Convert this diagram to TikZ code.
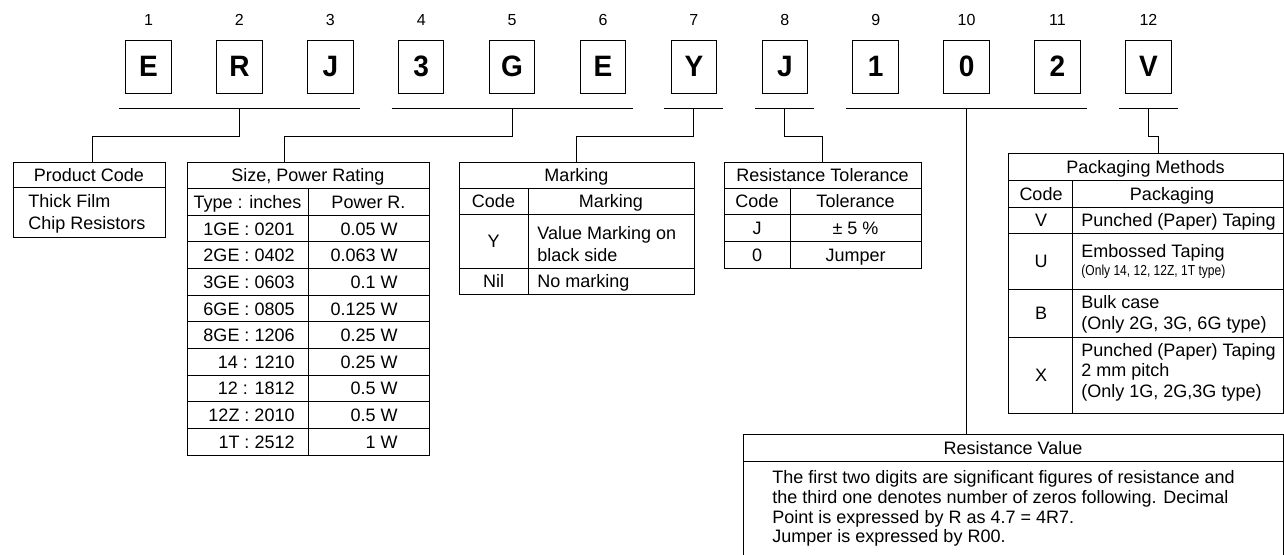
\documentclass[tikz,border=0pt]{standalone}
\usepackage{fontspec}
\setmainfont{Liberation Sans}
\usepackage{graphicx}
\newcommand{\nrw}[1]{\scalebox{0.95}[1]{#1}}

\begin{document}
\begin{tikzpicture}[x=1pt,y=-1pt,line width=0.9pt,node distance=90.9pt,
  letter/.style={draw,line width=1pt,minimum width=45.5pt,minimum height=53pt,inner sep=0pt,font=\fontsize{29.5}{29.5}\selectfont\bfseries},
  num/.style={node distance=46.5pt,font=\fontsize{16}{16}\selectfont},
  tblframe/.style={draw,line width=1pt,inner sep=0pt},
  txt/.style={inner sep=0pt,font=\fontsize{18}{22}\selectfont},
  cell/.style={txt,text height=13pt,text depth=0pt},
  note/.style={inner sep=0pt,font=\fontsize{14.5}{15}\selectfont}]
  \useasboundingbox (0,0) rectangle (1284,554);

  % part number boxes
  \node[letter] (b1) at (148.5,66.5) {\nrw{E}};
  \node[letter] (b2) [right of=b1] {\nrw{R}};
  \node[letter] (b3) [right of=b2] {\nrw{J}};
  \node[letter] (b4) [right of=b3] {\nrw{3}};
  \node[letter] (b5) [right of=b4] {\nrw{G}};
  \node[letter] (b6) [right of=b5] {\nrw{E}};
  \node[letter] (b7) [right of=b6] {\nrw{Y}};
  \node[letter] (b8) [right of=b7] {\nrw{J}};
  \node[letter] (b9) [right of=b8] {\nrw{1}};
  \node[letter] (b10) [right of=b9] {\nrw{0}};
  \node[letter] (b11) [right of=b10] {\nrw{2}};
  \node[letter] (b12) [right of=b11] {\nrw{V}};

  \node[num] (n1) [above of=b1] {1};
  \node[num] (n2) [above of=b2] {2};
  \node[num] (n3) [above of=b3] {3};
  \node[num] (n4) [above of=b4] {4};
  \node[num] (n5) [above of=b5] {5};
  \node[num] (n6) [above of=b6] {6};
  \node[num] (n7) [above of=b7] {7};
  \node[num] (n8) [above of=b8] {8};
  \node[num] (n9) [above of=b9] {9};
  \node[num] (n10) [above of=b10] {10};
  \node[num] (n11) [above of=b11] {11};
  \node[num] (n12) [above of=b12] {12};

  % group brackets
  \draw ([xshift=-29.5pt,yshift=-15pt]b1.south) -- ([xshift=29.5pt,yshift=-15pt]b3.south);
  \draw ([xshift=-29.5pt,yshift=-15pt]b4.south) -- ([xshift=29.5pt,yshift=-15pt]b6.south);
  \draw ([xshift=-29.5pt,yshift=-15pt]b7.south) -- ([xshift=29.5pt,yshift=-15pt]b7.south);
  \draw ([xshift=-29.5pt,yshift=-15pt]b8.south) -- ([xshift=29.5pt,yshift=-15pt]b8.south);
  \draw ([xshift=-29.5pt,yshift=-15pt]b9.south) -- ([xshift=29.5pt,yshift=-15pt]b11.south);
  \draw ([xshift=-29.5pt,yshift=-15pt]b12.south) -- ([xshift=29.5pt,yshift=-15pt]b12.south);

  % product code
  \node[tblframe,minimum width=152pt,minimum height=75pt] (pc) at (89,199.5) {};
  \draw (pc.north west) ++(0,26) -- ++(152,0);
  \node[cell] (pct) at (89,175) {Product Code};
  \node[txt,align=left,anchor=west] (pcb) at (28,214) {Thick Film\\Chip Resistors};

  % size, power rating
  \node[tblframe,minimum width=242pt,minimum height=293pt] (sz) at (308,308.5) {};
  \foreach \k in {1,...,10}
    \draw (187,{162+26.64*\k}) -- (429,{162+26.64*\k});
  \draw (sz.south) -- ++(0,-266.4);
  \node[cell] (szt) at (308,175.3) {Size, Power Rating};
  \node[cell] (szh1) at (247.5,202) {Type : inches};
  \node[cell] (szh2) at (368.5,202) {Power R.};
  \foreach \t/\p [count=\i] in {1GE : 0201/0.05 W, 2GE : 0402/0.063 W, 3GE : 0603/0.1 W,
      6GE : 0805/0.125 W, 8GE : 1206/0.25 W, 14 : 1210/0.25 W, 12 : 1812/0.5 W,
      12Z : 2010/0.5 W, 1T : 2512/1 W} {
    \node[cell,anchor=east] (sza\i) at (295,{162+26.64*(\i+1.5)}) {\t};
    \node[cell,anchor=east] (szb\i) at (398,{162+26.64*(\i+1.5)}) {\p};
  }

  % marking
  \node[tblframe,minimum width=235pt,minimum height=132pt] (mk) at (576.5,228) {};
  \draw (459,188) -- (694,188);
  \draw (459,214) -- (694,214);
  \draw (459,268) -- (694,268);
  \draw (528,188) -- (528,294);
  \node[cell] (mkt) at (576.5,175) {Marking};
  \node[cell] (mkh1) at (493.5,201) {Code};
  \node[cell] (mkh2) at (611,201) {Marking};
  \node[cell] (mky) at (493.5,241) {Y};
  \node[txt,align=left,anchor=west] (mkyt) at (537,244) {Value Marking on\\black side};
  \node[cell] (mkn) at (493.5,281) {Nil};
  \node[cell,anchor=west] (mknt) at (537,281) {No marking};

  % resistance tolerance
  \node[tblframe,minimum width=197pt,minimum height=106pt] (tl) at (822.5,215) {};
  \draw (724,188) -- (921,188);
  \draw (724,214) -- (921,214);
  \draw (724,241) -- (921,241);
  \draw (790,188) -- (790,268);
  \node[cell] (tlt) at (822.5,175) {Resistance Tolerance};
  \node[cell] (tlh1) at (757,201) {Code};
  \node[cell] (tlh2) at (855.5,201) {Tolerance};
  \node[cell] (tlj) at (757,227.5) {J};
  \node[cell] (tljt) at (855.5,227.5) {± 5 \%};
  \node[cell] (tl0) at (757,254.5) {0};
  \node[cell] (tl0t) at (855.5,254.5) {Jumper};

  % packaging methods
  \node[tblframe,minimum width=275pt,minimum height=260pt] (pk) at (1145.5,283) {};
  \draw (1008,180) -- (1283,180);
  \draw (1008,207) -- (1283,207);
  \draw (1008,233) -- (1283,233);
  \draw (1008,289) -- (1283,289);
  \draw (1008,337) -- (1283,337);
  \draw (1072,180) -- (1072,413);
  \node[cell] (pkt) at (1145.5,166.5) {Packaging Methods};
  \node[cell] (pkh1) at (1041,193.5) {Code};
  \node[cell] (pkh2) at (1172,193.5) {Packaging};
  \node[cell] (pkv) at (1041,220) {V};
  \node[cell,anchor=west] (pkvt) at (1081,220) {Punched (Paper) Taping};
  \node[cell] (pku) at (1041,261) {U};
  \node[cell,anchor=west] (pkut) at (1081,251) {Embossed Taping};
  \node[note,anchor=west] (pkun) at (1081,272) {\scalebox{0.83}[1]{(Only 14, 12, 12Z, 1T type)}};
  \node[cell] (pkb) at (1041,313) {B};
  \node[txt,align=left,anchor=west,font=\fontsize{18}{21}\selectfont] (pkbt) at (1081,314.5) {Bulk case\\(Only 2G, 3G, 6G type)};
  \node[cell] (pkx) at (1041,375) {X};
  \node[txt,align=left,anchor=west,font=\fontsize{18}{20.5}\selectfont] (pkxt) at (1081,372) {Punched (Paper) Taping\\2 mm pitch\\(Only 1G, 2G,3G type)};

  % resistance value
  \node[tblframe,minimum width=540pt,minimum height=136pt] (rv) at (1013,502) {};
  \draw (743,461) -- (1283,461);
  \node[cell] (rvt) at (1013,447.5) {Resistance Value};
  \node[txt,align=left,anchor=west,font=\fontsize{18}{19.7}\selectfont] (rvb) at (772,508.5)
    {The first two digits are significant figures of resistance and\\
     the third one denotes number of zeros following. Decimal\\
     Point is expressed by R as 4.7 = 4R7.\\
     Jumper is expressed by R00.};

  % connectors
  \draw ([yshift=-15pt]b2.south) -- ++(0,28) -| ([xshift=3pt]pc.north);
  \draw ([yshift=-15pt]b5.south) -- ++(0,28) -| ([xshift=-24pt]sz.north);
  \draw ([yshift=-15pt]b7.south) -- ++(0,28) -| (mk.north);
  \draw ([yshift=-15pt]b8.south) -- ++(0,28) -| (tl.north);
  \draw ([yshift=-15pt]b10.south) -- (b10.south |- rv.north);
  \draw ([yshift=-15pt]b12.south) -- ++(0,28) -| ([xshift=12.5pt]pk.north);
\end{tikzpicture}
\end{document}
